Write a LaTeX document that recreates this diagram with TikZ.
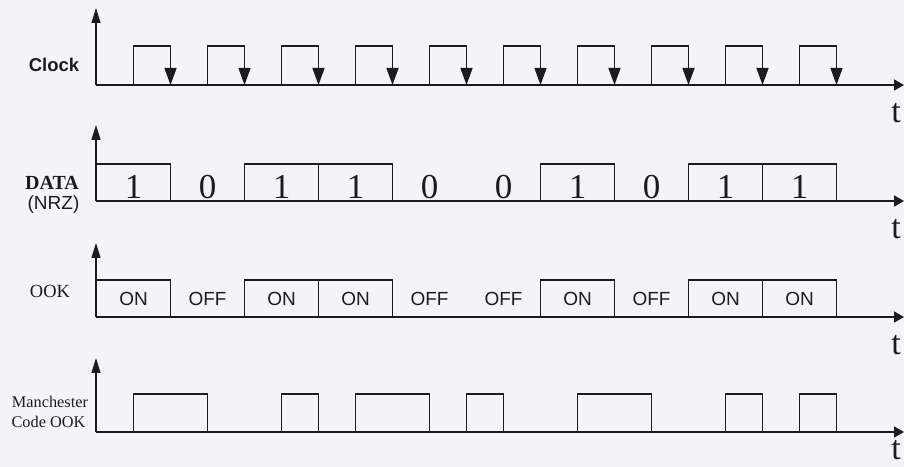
\documentclass[tikz,border=0pt]{standalone}
\usepackage{fontspec}
\setmainfont{Liberation Serif}
\setsansfont{Liberation Sans}
\usetikzlibrary{arrows.meta}
\definecolor{bgc}{RGB}{243,243,248}
\definecolor{ink}{RGB}{28,28,32}
\tikzset{
  wave/.style={draw=ink, line width=1.45bp, line join=miter},
  axisup/.style={wave, -{Triangle[length=15bp,width=9bp]}},
  axisright/.style={wave, -{Triangle[length=10bp,width=11bp]}},
  clkarrow/.style={wave, -{Triangle[length=17bp,width=12bp]}},
  lblsans/.style={text=ink, inner sep=0pt, font=\sffamily\bfseries\fontsize{18.5bp}{22bp}\selectfont},
  lblserif/.style={text=ink, inner sep=0pt, font=\fontsize{18.5bp}{22bp}\selectfont},
  lblsmall/.style={text=ink, inner sep=0pt, font=\fontsize{16.3bp}{19bp}\selectfont},
  digit/.style={text=ink, inner sep=0pt, font=\fontsize{35bp}{40bp}\selectfont},
  ooktext/.style={text=ink, inner sep=0pt, font=\sffamily\fontsize{19bp}{22bp}\selectfont},
  tlabel/.style={text=ink, inner sep=0pt, anchor=base, font=\fontsize{34bp}{38bp}\selectfont}
}
\begin{document}
\begin{tikzpicture}[x=1bp,y=-1bp]
\fill[bgc] (0,0) rectangle (904,467);
\useasboundingbox (0,0) rectangle (904,467);

% ---------- Row 1: Clock ----------
\node[lblsans] (clk) at (54,65) {Clock};
\coordinate (o1) at (96,85);
\coordinate (y1) at (96,8);
\coordinate (x1) at (904,85);
\draw[axisup] (o1) -- (y1);
\draw[axisright] (o1) -- (x1);
\node[tlabel] (t1) at (896,123) {t};
\foreach \k in {0,...,9}{
  \pgfmathsetmacro\a{133.5+74*\k}
  \pgfmathsetmacro\b{\a+37}
  \draw[clkarrow] (\a,85) -- (\a,46) -- (\b,46) -- (\b,85);
}

% ---------- Row 2: DATA (NRZ) ----------
\node[text=ink, inner sep=0pt, font=\bfseries\fontsize{20bp}{24bp}\selectfont] (data) at (52,182.5) {DATA};
\node[text=ink, inner sep=0pt, font=\sffamily\fontsize{19bp}{22bp}\selectfont] (nrz) at (53.5,205) {(NRZ)};
\coordinate (o2) at (96,201);
\coordinate (y2) at (96,125);
\coordinate (x2) at (904,201);
\draw[axisup] (o2) -- (y2);
\draw[axisright] (o2) -- (x2);
\node[tlabel] (t2) at (896,239) {t};
\foreach \k in {0,2,3,6,8,9}{
  \draw[wave] ({96.5+74*\k},201) rectangle ({170.5+74*\k},164);
}
\foreach \b [count=\i from 0] in {1,0,1,1,0,0,1,0,1,1}{
  \node[digit] (d\i) at ({133.5+74*\i},187) {\b};
}

% ---------- Row 3: OOK ----------
\node[lblserif] (ook) at (50,291) {OOK};
\coordinate (o3) at (96,317);
\coordinate (y3) at (96,243);
\coordinate (x3) at (904,317);
\draw[axisup] (o3) -- (y3);
\draw[axisright] (o3) -- (x3);
\node[tlabel] (t3) at (896,355) {t};
\foreach \k in {0,2,3,6,8,9}{
  \draw[wave] ({96.5+74*\k},317) rectangle ({170.5+74*\k},280);
}
\foreach \s [count=\i from 0] in {ON,OFF,ON,ON,OFF,OFF,ON,OFF,ON,ON}{
  \node[ooktext] (s\i) at ({133.5+74*\i},299) {\s};
}

% ---------- Row 4: Manchester Code OOK ----------
\node[lblsmall] (man) at (50,402) {Manchester};
\node[lblsmall] (code) at (48.5,422) {Code OOK};
\coordinate (o4) at (96,432);
\coordinate (y4) at (96,358);
\coordinate (x4) at (904,432);
\draw[axisup] (o4) -- (y4);
\draw[axisright] (o4) -- (x4);
\node[tlabel] (t4) at (896,459) {t};
\foreach \a/\b in {133.5/207.5, 281.5/318.5, 355.5/429.5, 466.5/503.5, 577.5/651.5, 725.5/762.5, 799.5/836.5}{
  \draw[wave] (\a,432) -- (\a,394) -- (\b,394) -- (\b,432);
}
\end{tikzpicture}
\end{document}
